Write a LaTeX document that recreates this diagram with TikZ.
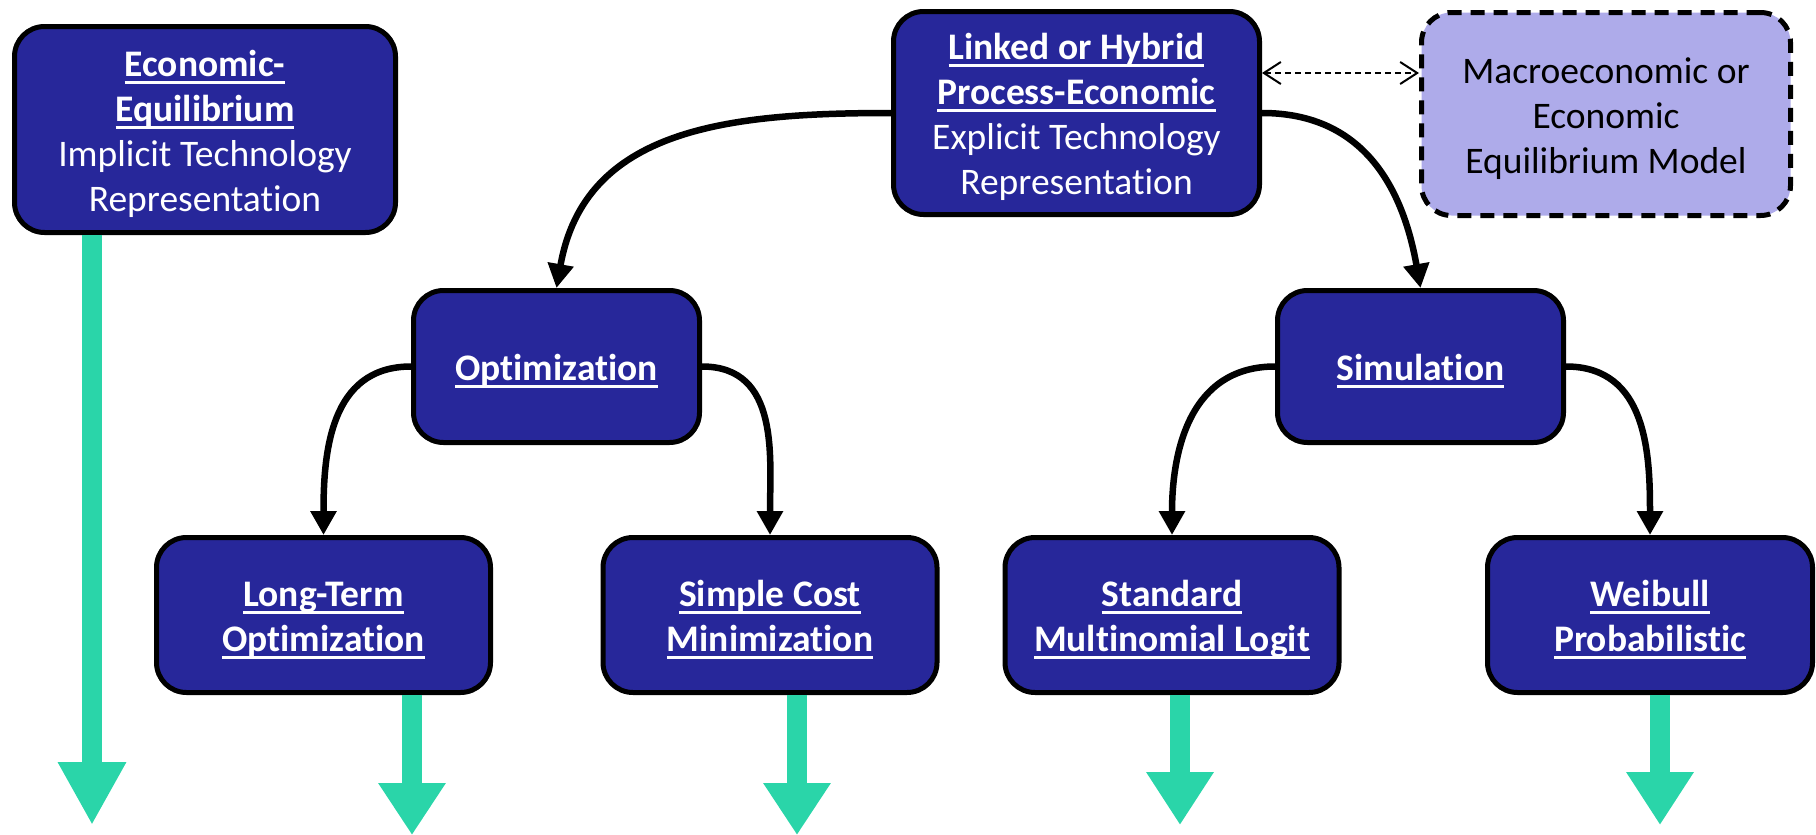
\documentclass[tikz,border=0pt]{standalone}
\usepackage{fontspec}
\setmainfont{Carlito}[Ligatures={NoCommon,NoContextual}]
\usetikzlibrary{arrows.meta}

\definecolor{boxblue}{RGB}{39,39,154}
\definecolor{boxlilac}{RGB}{174,171,234}
\definecolor{flowgreen}{RGB}{42,213,169}

% bold heading with an underline at a fixed depth below the baseline
\newcommand\ulhead[1]{\leavevmode\setbox0\hbox{\bfseries #1}\rlap{\rule[-0.21em]{\wd0}{0.085em}}\box0}
% fixed height of the first line and depth of the last line in a box
\newcommand\topstrut{\rule{0pt}{39pt}}
\newcommand\botstrut{\rule[-11pt]{0pt}{11pt}}

\tikzset{
  boxtext/.style={align=center, inner sep=0pt,
    font=\fontsize{37.5}{45}\selectfont},
  model/.style={boxtext, draw=black, line width=5pt, fill=boxblue,
    rounded corners=30pt, text=white},
  external/.style={boxtext, draw=black, line width=5pt, fill=boxlilac,
    rounded corners=30pt, dash pattern=on 14pt off 9pt, text=black},
  branch/.style={draw=black, line width=6.5pt, -{Triangle[width=25pt,length=24pt]}},
  coupling/.style={draw=black, line width=2pt, dash pattern=on 6pt off 4pt,
    {Straight Barb[length=17pt,width=22pt,line width=2pt]}-{Straight Barb[length=17pt,width=22pt,line width=2pt]}},
  outflow/.style={draw=flowgreen, line width=20pt},
}

\begin{document}
\begin{tikzpicture}[x=1pt,y=1pt]
\useasboundingbox (0,0) rectangle (1816,-835);

% top level
\node[model, minimum width=381pt, minimum height=206pt] (econ) at (205,-129.5)
  {\topstrut\ulhead{Economic-}\\\ulhead{Equilibrium}\\Implicit Technology\\Representation\botstrut};
\node[model, minimum width=366pt, minimum height=203pt] (link) at (1076.5,-113)
  {\topstrut\ulhead{Linked or Hybrid}\\\ulhead{Process-Economic}\\Explicit Technology\\Representation\botstrut};
\node[external, minimum width=369pt, minimum height=203pt] (macro) at (1606,-114)
  {\topstrut Macroeconomic or\\Economic\\Equilibrium Model\botstrut};

% second level
\node[model, minimum width=286pt, minimum height=152pt] (opt) at (556.5,-366.5)
  {\topstrut\ulhead{Optimization}\botstrut};
\node[model, minimum width=286pt, minimum height=152pt] (sim) at (1420.5,-366.5)
  {\topstrut\ulhead{Simulation}\botstrut};

% third level
\node[model, minimum width=334pt, minimum height=155pt] (lt) at (323.5,-615)
  {\topstrut\ulhead{Long-Term}\\\ulhead{Optimization}\botstrut};
\node[model, minimum width=334pt, minimum height=155pt] (sc) at (770,-615)
  {\topstrut\ulhead{Simple Cost}\\\ulhead{Minimization}\botstrut};
\node[model, minimum width=334pt, minimum height=155pt] (std) at (1172,-615)
  {\topstrut\ulhead{Standard}\\\ulhead{Multinomial Logit}\botstrut};
\node[model, minimum width=325pt, minimum height=155pt] (wei) at (1650,-615)
  {\topstrut\ulhead{Weibull}\\\ulhead{Probabilistic}\botstrut};

% hierarchy connectors
\draw[branch] (link.west) to[out=180,in=80,looseness=1.1] (opt.north);
\draw[branch] (link.east) to[out=0,in=100,looseness=1.1] (sim.north);
\draw[branch] (opt.west) to[out=180,in=90,looseness=1.1] (lt.north);
\draw[branch] (opt.east) to[out=0,in=90,looseness=1.1] (sc.north);
\draw[branch] (sim.west) to[out=180,in=90,looseness=1.1] (std.north);
\draw[branch] (sim.east) to[out=0,in=90,looseness=1.1] (wei.north);

% model coupling
\coordinate (cpl) at (0,-73);
\draw[coupling] (link.east |- cpl) -- (macro.west |- cpl);

% outgoing flows
\coordinate (f1) at (92,-825);
\coordinate (f2) at (412,-835);
\coordinate (f3) at (797,-835);
\coordinate (f4) at (1180,-825);
\coordinate (f5) at (1660,-825);
\draw[outflow, -{Triangle[width=64pt,length=63pt]}] (econ.south -| f1) -- (f1);
\draw[outflow, -{Triangle[width=64pt,length=52pt]}] (lt.south -| f2) -- (f2);
\draw[outflow, -{Triangle[width=64pt,length=52pt]}] (sc.south -| f3) -- (f3);
\draw[outflow, -{Triangle[width=64pt,length=53pt]}] (std.south -| f4) -- (f4);
\draw[outflow, -{Triangle[width=64pt,length=53pt]}] (wei.south -| f5) -- (f5);
\end{tikzpicture}
\end{document}
